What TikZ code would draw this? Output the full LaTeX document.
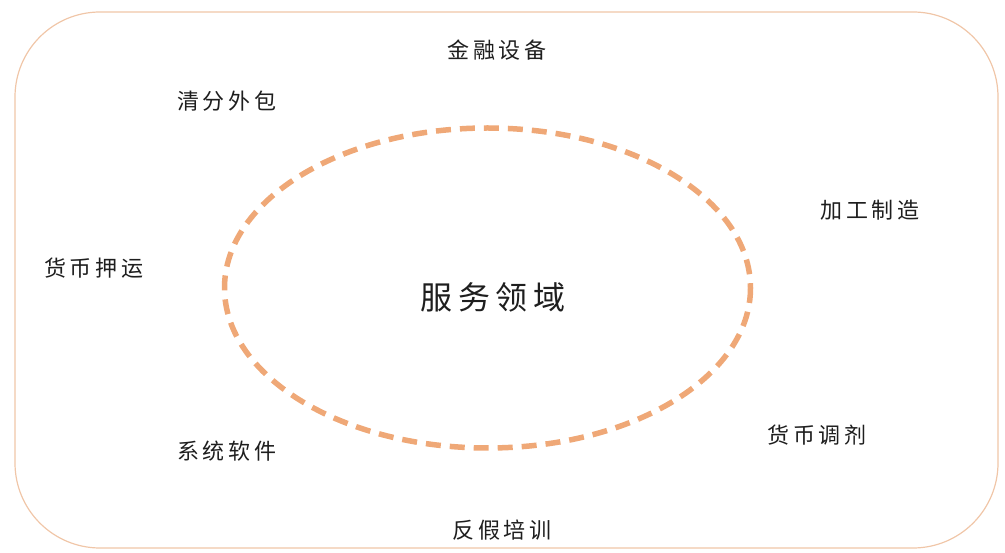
\documentclass[tikz,border=0pt]{standalone}
\usepackage{fontspec}
\newfontfamily\cjk[LetterSpace=18]{Noto Sans CJK SC}
\definecolor{boxline}{HTML}{F0C6A8}
\definecolor{dashc}{HTML}{EFA877}
\definecolor{txt}{HTML}{1E1E1E}
\begin{document}
\begin{tikzpicture}[x=1pt,y=-1pt,
  lab/.style={font=\cjk\fontsize{22}{24}\selectfont, text=txt, inner sep=0pt},
  biglab/.style={font=\cjk\fontsize{32}{34}\selectfont, text=txt, inner sep=0pt}]
\useasboundingbox (0,0) rectangle (1005,553);
\draw[boxline, line width=1.2pt, rounded corners=85pt] (15,12) rectangle (998,548);
\draw[dashc, line width=5.5pt, dash pattern=on 15pt off 9pt] (487.5,288) ellipse [x radius=263, y radius=160];
\node[biglab] (center) at (493,297) {服务领域};
\node[lab] (a) at (497,50) {金融设备};
\node[lab] (b) at (227,101) {清分外包};
\node[lab] (c) at (870,210) {加工制造};
\node[lab] (d) at (94,268) {货币押运};
\node[lab] (e) at (227,451) {系统软件};
\node[lab] (f) at (817,435) {货币调剂};
\node[lab] (g) at (502,530) {反假培训};
\end{tikzpicture}
\end{document}
